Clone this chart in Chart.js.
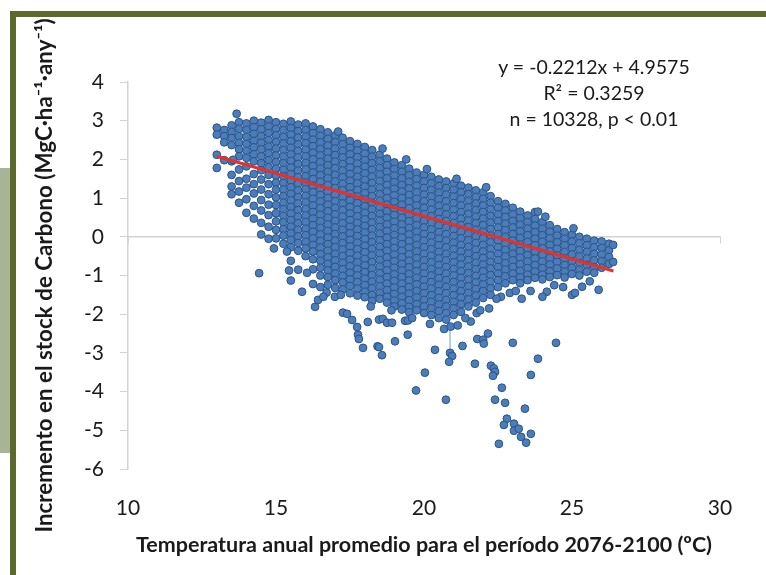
<!DOCTYPE html>
<html>
<head>
<meta charset="utf-8">
<script src="https://cdn.jsdelivr.net/npm/chart.js@4.4.1/dist/chart.umd.min.js"></script>
<style>
    html, body { margin: 0; padding: 0; background: #fff; }
    body { width: 766px; height: 575px; position: relative; overflow: hidden; font-family: Lato, sans-serif; }
    .side-tab { position: absolute; left: 0; top: 168px; width: 10px; height: 285px; background: #a8b496; }
    .frame { position: absolute; left: 10px; top: 11px; width: 770px; height: 580px;
             border-top: 6px solid #5b6a2c; border-left: 6px solid #5b6a2c; }
    #wrap { position: absolute; left: 16px; top: 17px; width: 750px; height: 558px; }
    .fit-note { position: absolute; left: 464px; top: 54px; width: 260px; text-align: center;
                font-size: 19.5px; line-height: 26px; color: #1a1a1a; }
</style>
</head>
<body>
<div class="side-tab"></div>
<div class="frame"></div>
<div id="wrap"><canvas id="chart" width="750" height="558"></canvas></div>
<div class="fit-note">y = -0.2212x + 4.9575<br>R² = 0.3259<br>n = 10328, p &lt; 0.01</div>

<script>
// Dense cloud, read column by column (temperature ºC -> carbon stock change)
const tempCols = [13.0, 13.25, 13.5, 13.75, 14.0, 14.25, 14.5, 14.75, 15.0, 15.25, 15.5, 15.75,
    16.0, 16.25, 16.5, 16.75, 17.0, 17.25, 17.5, 17.75, 18.0, 18.25, 18.5, 18.75,
    19.0, 19.25, 19.5, 19.75, 20.0, 20.25, 20.5, 20.75, 21.0, 21.25, 21.5, 21.75,
    22.0, 22.25, 22.5, 22.75, 23.0, 23.25, 23.5, 23.75, 24.0, 24.25, 24.5, 24.75,
    25.0, 25.25, 25.5, 25.75, 26.0, 26.25];

const stockCols = [
    [2.82, 2.64, 2.12, 1.78],
    [2.76, 2.6, 2.44, 1.98],
    [2.88, 2.71, 2.55, 2.37, 1.95, 1.6, 1.3, 1.1],
    [2.96, 2.79, 2.6, 2.43, 2.26, 2.08, 1.74, 1.44, 1.17, 0.88],
    [2.93, 2.76, 2.58, 2.4, 2.22, 2.04, 1.82, 1.5, 1.27, 0.97, 0.62],
    [3.0, 2.83, 2.66, 2.48, 2.31, 2.13, 1.95, 1.62, 1.36, 1.12, 0.8, 0.47],
    [2.95, 2.78, 2.6, 2.43, 2.26, 2.08, 1.9, 1.72, 1.48, 1.22, 0.95, 0.68, 0.36, 0.06],
    [3.02, 2.85, 2.68, 2.5, 2.33, 2.16, 1.98, 1.8, 1.6, 1.36, 1.1, 0.83, 0.56, 0.26, -0.05],
    [2.96, 2.79, 2.62, 2.45, 2.28, 2.1, 1.93, 1.76, 1.58, 1.4, 1.22, 1.02, 0.82, 0.61, 0.4, 0.18, -0.04],
    [2.92, 2.75, 2.58, 2.41, 2.24, 2.07, 1.9, 1.73, 1.56, 1.39, 1.22, 1.05, 0.88, 0.71, 0.54, 0.37, 0.2, 0.03, -0.18],
    [2.98, 2.81, 2.64, 2.47, 2.3, 2.13, 1.96, 1.79, 1.62, 1.45, 1.28, 1.11, 0.94, 0.77, 0.6, 0.43, 0.26, 0.09, -0.08, -0.27, -0.62],
    [2.9, 2.73, 2.56, 2.39, 2.22, 2.05, 1.88, 1.71, 1.54, 1.37, 1.2, 1.03, 0.86, 0.69, 0.52, 0.35, 0.18, 0.01, -0.16, -0.36, -0.85],
    [2.93, 2.76, 2.59, 2.42, 2.25, 2.08, 1.91, 1.74, 1.57, 1.4, 1.23, 1.06, 0.89, 0.72, 0.55, 0.38, 0.21, 0.04, -0.13, -0.3, -0.5],
    [2.85, 2.68, 2.51, 2.34, 2.17, 2.0, 1.83, 1.66, 1.49, 1.32, 1.15, 0.98, 0.81, 0.64, 0.47, 0.3, 0.13, -0.04, -0.21, -0.38, -0.58, -0.84, -1.22],
    [2.78, 2.61, 2.44, 2.27, 2.1, 1.93, 1.76, 1.59, 1.42, 1.25, 1.08, 0.91, 0.74, 0.57, 0.4, 0.23, 0.06, -0.11, -0.28, -0.45, -0.62, -0.8, -1.0, -1.3],
    [2.7, 2.53, 2.36, 2.19, 2.02, 1.85, 1.68, 1.51, 1.34, 1.17, 1.0, 0.83, 0.66, 0.49, 0.32, 0.15, -0.02, -0.19, -0.36, -0.53, -0.7, -0.87, -1.04, -1.24],
    [2.62, 2.45, 2.28, 2.11, 1.94, 1.77, 1.6, 1.43, 1.26, 1.09, 0.92, 0.75, 0.58, 0.41, 0.24, 0.07, -0.1, -0.27, -0.44, -0.61, -0.78, -0.95, -1.12, -1.32],
    [2.56, 2.39, 2.22, 2.05, 1.88, 1.71, 1.54, 1.37, 1.2, 1.03, 0.86, 0.69, 0.52, 0.35, 0.18, 0.01, -0.16, -0.33, -0.5, -0.67, -0.84, -1.01, -1.18, -1.36],
    [2.47, 2.3, 2.13, 1.96, 1.79, 1.62, 1.45, 1.28, 1.11, 0.94, 0.77, 0.6, 0.43, 0.26, 0.09, -0.08, -0.25, -0.42, -0.59, -0.76, -0.93, -1.1, -1.27, -1.46],
    [2.4, 2.23, 2.06, 1.89, 1.72, 1.55, 1.38, 1.21, 1.04, 0.87, 0.7, 0.53, 0.36, 0.19, 0.02, -0.15, -0.32, -0.49, -0.66, -0.83, -1.0, -1.17, -1.34, -1.52],
    [2.32, 2.15, 1.98, 1.81, 1.64, 1.47, 1.3, 1.13, 0.96, 0.79, 0.62, 0.45, 0.28, 0.11, -0.06, -0.23, -0.4, -0.57, -0.74, -0.91, -1.08, -1.25, -1.42, -1.56],
    [2.24, 2.07, 1.9, 1.73, 1.56, 1.39, 1.22, 1.05, 0.88, 0.71, 0.54, 0.37, 0.2, 0.03, -0.14, -0.31, -0.48, -0.65, -0.82, -0.99, -1.16, -1.33, -1.5, -1.66],
    [2.12, 1.95, 1.78, 1.61, 1.44, 1.27, 1.1, 0.93, 0.76, 0.59, 0.42, 0.25, 0.08, -0.09, -0.26, -0.43, -0.6, -0.77, -0.94, -1.11, -1.28, -1.45, -1.6],
    [2.02, 1.85, 1.68, 1.51, 1.34, 1.17, 1.0, 0.83, 0.66, 0.49, 0.32, 0.15, -0.02, -0.19, -0.36, -0.53, -0.7, -0.87, -1.04, -1.21, -1.38, -1.55, -1.7],
    [1.92, 1.75, 1.58, 1.41, 1.24, 1.07, 0.9, 0.73, 0.56, 0.39, 0.22, 0.05, -0.12, -0.29, -0.46, -0.63, -0.8, -0.97, -1.14, -1.31, -1.48, -1.65, -1.8],
    [1.85, 1.68, 1.51, 1.34, 1.17, 1.0, 0.83, 0.66, 0.49, 0.32, 0.15, -0.02, -0.19, -0.36, -0.53, -0.7, -0.87, -1.04, -1.21, -1.38, -1.55, -1.72, -1.88],
    [1.76, 1.59, 1.42, 1.25, 1.08, 0.91, 0.74, 0.57, 0.4, 0.23, 0.06, -0.11, -0.28, -0.45, -0.62, -0.79, -0.96, -1.13, -1.3, -1.47, -1.64, -1.81, -1.95],
    [1.66, 1.49, 1.32, 1.15, 0.98, 0.81, 0.64, 0.47, 0.3, 0.13, -0.04, -0.21, -0.38, -0.55, -0.72, -0.89, -1.06, -1.23, -1.4, -1.57, -1.74, -1.9],
    [1.6, 1.43, 1.26, 1.09, 0.92, 0.75, 0.58, 0.41, 0.24, 0.07, -0.1, -0.27, -0.44, -0.61, -0.78, -0.95, -1.12, -1.29, -1.46, -1.63, -1.8, -1.97],
    [1.55, 1.38, 1.21, 1.04, 0.87, 0.7, 0.53, 0.36, 0.19, 0.02, -0.15, -0.32, -0.49, -0.66, -0.83, -1.0, -1.17, -1.34, -1.51, -1.68, -1.85, -2.02],
    [1.48, 1.31, 1.14, 0.97, 0.8, 0.63, 0.46, 0.29, 0.12, -0.05, -0.22, -0.39, -0.56, -0.73, -0.9, -1.07, -1.24, -1.41, -1.58, -1.75, -1.92, -2.1],
    [1.43, 1.26, 1.09, 0.92, 0.75, 0.58, 0.41, 0.24, 0.07, -0.1, -0.27, -0.44, -0.61, -0.78, -0.95, -1.12, -1.29, -1.46, -1.63, -1.8, -1.97, -2.14],
    [1.38, 1.21, 1.04, 0.87, 0.7, 0.53, 0.36, 0.19, 0.02, -0.15, -0.32, -0.49, -0.66, -0.83, -1.0, -1.17, -1.34, -1.51, -1.68, -1.85, -2.02],
    [1.32, 1.15, 0.98, 0.81, 0.64, 0.47, 0.3, 0.13, -0.04, -0.21, -0.38, -0.55, -0.72, -0.89, -1.06, -1.23, -1.4, -1.57, -1.74, -1.94],
    [1.27, 1.1, 0.93, 0.76, 0.59, 0.42, 0.25, 0.08, -0.09, -0.26, -0.43, -0.6, -0.77, -0.94, -1.11, -1.28, -1.45, -1.62, -1.8],
    [1.2, 1.03, 0.86, 0.69, 0.52, 0.35, 0.18, 0.01, -0.16, -0.33, -0.5, -0.67, -0.84, -1.01, -1.18, -1.35, -1.52, -1.7],
    [1.15, 0.98, 0.81, 0.64, 0.47, 0.3, 0.13, -0.04, -0.21, -0.38, -0.55, -0.72, -0.89, -1.06, -1.23, -1.4, -1.58],
    [1.05, 0.88, 0.71, 0.54, 0.37, 0.2, 0.03, -0.14, -0.31, -0.48, -0.65, -0.82, -0.99, -1.16, -1.33, -1.5],
    [0.92, 0.75, 0.58, 0.41, 0.24, 0.07, -0.1, -0.27, -0.44, -0.61, -0.78, -0.95, -1.12, -1.3],
    [0.85, 0.68, 0.51, 0.34, 0.17, 0.0, -0.17, -0.34, -0.51, -0.68, -0.85, -1.02, -1.2],
    [0.75, 0.58, 0.41, 0.24, 0.07, -0.1, -0.27, -0.44, -0.61, -0.78, -0.95, -1.12],
    [0.65, 0.48, 0.31, 0.14, -0.03, -0.2, -0.37, -0.54, -0.71, -0.88, -1.05, -1.2],
    [0.55, 0.38, 0.21, 0.04, -0.13, -0.3, -0.47, -0.64, -0.81, -0.98, -1.12],
    [0.64, 0.46, 0.29, 0.12, -0.05, -0.22, -0.39, -0.56, -0.73, -0.9, -1.06],
    [0.38, 0.21, 0.04, -0.13, -0.3, -0.47, -0.64, -0.81, -0.98, -1.1],
    [0.3, 0.13, -0.04, -0.21, -0.38, -0.55, -0.72, -0.89, -1.04],
    [0.2, 0.03, -0.14, -0.31, -0.48, -0.65, -0.82, -0.99],
    [0.12, -0.05, -0.22, -0.39, -0.56, -0.73, -0.9, -1.05],
    [0.05, -0.12, -0.29, -0.46, -0.63, -0.8, -0.96],
    [0.0, -0.17, -0.34, -0.51, -0.68, -0.85, -1.0],
    [-0.05, -0.22, -0.39, -0.56, -0.73, -0.9],
    [-0.1, -0.27, -0.44, -0.61, -0.78, -0.93],
    [-0.12, -0.29, -0.46, -0.63, -0.8],
    [-0.18, -0.35, -0.52, -0.7]
];

// Scattered points outside the dense cloud (and along its ragged edges)
const outlierTemp = [13.67, 13.55, 14.43, 14.93, 15.37, 15.44, 15.5, 15.88, 16.05, 16.32,
    16.42, 16.71, 16.99, 17.19, 17.26, 17.4, 17.57, 17.74, 17.77, 17.8,
    17.94, 18.1, 18.43, 18.48, 18.58, 18.48, 18.61, 18.75, 18.92, 19.02,
    19.36, 19.46, 19.45, 19.73, 20.03, 20.37, 20.68, 20.9, 21.14, 20.88,
    20.95, 20.85, 20.74, 21.3, 21.58, 21.78, 21.8, 21.72, 22.0, 22.02,
    22.16, 22.26, 22.36, 22.4, 22.33, 22.63, 22.4, 22.74, 22.8, 22.7,
    22.53, 23.0, 23.04, 23.04, 23.2, 23.28, 23.45, 23.41, 23.61, 23.61,
    23.85, 24.46, 24.15, 24.7, 25.0, 25.1, 25.34, 25.9, 26.39, 26.39,
    23.85, 22.6, 22.9, 23.3, 23.6, 24.0, 21.9, 22.2,
    16.6, 18.2, 18.9, 19.6, 20.2, 21.4, 22.45, 23.1, 24.4, 25.6,
    17.1, 18.6, 19.4, 20.1, 21.1, 22.1, 24.1, 25.05];
const outlierStock = [3.18, 1.99, -0.94, -0.3, -0.38, -0.87, -1.13, -1.42, -0.93, -1.81,
    -1.63, -1.44, -1.55, -1.5, -1.96, -1.99, -2.15, -2.33, -2.53, -2.64,
    -2.87, -2.2, -2.83, -2.85, -3.06, -2.14, -2.12, -2.22, -2.22, -2.7,
    -2.17, -2.16, -2.53, -3.97, -3.51, -2.92, -2.38, -2.32, -2.29, -3.0,
    -3.08, -3.23, -4.21, -2.82, -2.19, -1.97, -2.64, -3.28, -2.66, -2.76,
    -2.5, -3.33, -3.4, -3.49, -3.59, -3.9, -4.21, -4.29, -4.7, -4.86,
    -5.35, -2.74, -4.83, -5.01, -4.96, -5.17, -5.32, -4.44, -5.09, -3.57,
    -3.15, -2.74, -1.42, -1.3, -1.5, -1.45, -1.29, -1.37, -0.21, -0.65,
    0.65, -1.55, -1.45, -1.6, -1.4, -1.55, -1.9, -1.85,
    -1.55, -1.8, -1.9, -2.1, -2.25, -2.1, -1.6, -1.4, -1.25, -1.15,
    2.72, 2.28, 2.0, 1.75, 1.5, 1.28, 0.52, 0.22];

// Faint vertical connector visible near 20.9 ºC
const connectorTemp = [20.88, 20.88];
const connectorStock = [-2.4, -2.97];

// Fitted regression
const trendSlope = -0.2212;
const trendIntercept = 4.9575;
const trendTemp = [13.0, 26.4];

const xTicks = [10, 15, 20, 25, 30];
const yTicks = [-6, -5, -4, -3, -2, -1, 0, 1, 2, 3, 4];

const cloudPoints = [];
tempCols.forEach((t, i) => {
    stockCols[i].forEach(v => cloudPoints.push({ x: t, y: v }));
});
outlierTemp.forEach((t, i) => cloudPoints.push({ x: t, y: outlierStock[i] }));

const trendPoints = trendTemp.map(t => ({ x: t, y: trendSlope * t + trendIntercept }));
const connectorPoints = connectorTemp.map((t, i) => ({ x: t, y: connectorStock[i] }));

const axisGray = '#d3d3d3';
const textColor = '#1a1a1a';

new Chart(document.getElementById('chart'), {
    type: 'scatter',
    data: {
        datasets: [
            {
                type: 'line',
                label: 'Tendencia',
                data: trendPoints,
                borderColor: '#e8302a',
                borderWidth: 3,
                pointRadius: 0,
                order: 0
            },
            {
                type: 'line',
                label: 'conector',
                data: connectorPoints,
                borderColor: '#9dbde2',
                borderWidth: 1.5,
                pointRadius: 0,
                order: 2
            },
            {
                label: 'Incremento',
                data: cloudPoints,
                backgroundColor: '#4b7dbb',
                borderColor: '#2b5386',
                borderWidth: 1,
                pointRadius: 3.9,
                order: 1
            }
        ]
    },
    options: {
        responsive: false,
        animation: false,
        layout: { padding: { left: 0, right: 46, top: 65, bottom: 0 } },
        plugins: {
            legend: { display: false },
            tooltip: { enabled: false }
        },
        scales: {
            x: {
                type: 'linear',
                position: { y: 0 },
                min: 10,
                max: 30,
                ticks: { display: false, stepSize: 5 },
                grid: { drawOnChartArea: false, drawTicks: true, tickLength: 6, color: axisGray },
                border: { color: axisGray, width: 1.5 }
            },
            xLabels: {
                type: 'linear',
                axis: 'x',
                position: 'bottom',
                min: 10,
                max: 30,
                afterBuildTicks: s => { s.ticks = xTicks.map(v => ({ value: v })); },
                ticks: { font: { family: 'Lato', size: 21 }, color: textColor, padding: 27 },
                grid: { display: false, drawTicks: false },
                border: { display: false },
                title: {
                    display: true,
                    text: 'Temperatura anual promedio para el período 2076-2100 (ºC)',
                    font: { family: 'Lato', size: 21.5, weight: 'bold' },
                    color: textColor,
                    padding: { top: 0, bottom: 17 }
                },
                afterFit: s => { s.height = 106; }
            },
            y: {
                type: 'linear',
                min: -6,
                max: 4,
                afterBuildTicks: s => { s.ticks = yTicks.map(v => ({ value: v })); },
                ticks: { font: { family: 'Lato', size: 21 }, color: textColor, padding: 16 },
                grid: { drawOnChartArea: false, drawTicks: true, tickLength: 8, color: axisGray },
                border: { color: axisGray, width: 1.5 },
                title: {
                    display: true,
                    text: 'Incremento en el stock de Carbono (MgC·ha⁻¹·any⁻¹)',
                    font: { family: 'Lato', size: 22.4, weight: 'bold' },
                    color: textColor,
                    padding: { top: 15, bottom: 0 }
                },
                afterFit: s => { s.width = 112; }
            }
        }
    }
});
</script>
</body>
</html>
